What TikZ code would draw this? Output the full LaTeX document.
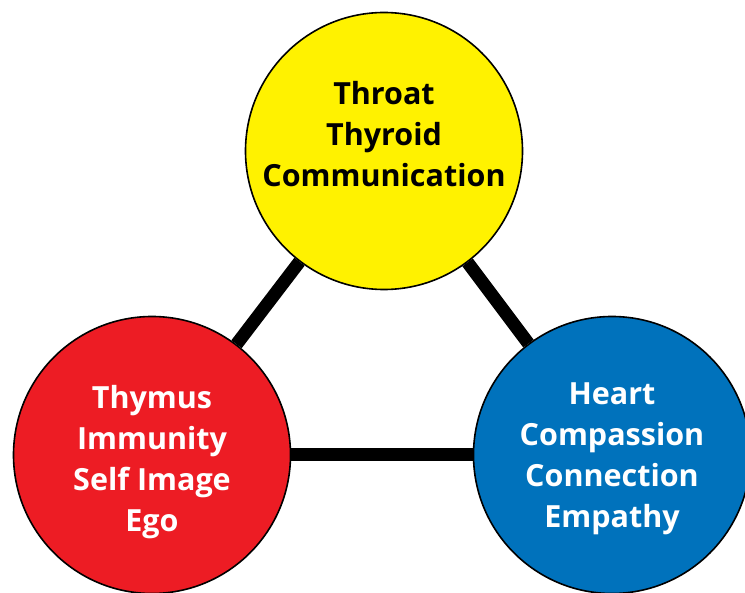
\documentclass[tikz,border=0pt]{standalone}
\usepackage{fontspec}
\setmainfont{Open Sans}
\usepackage{tikz}
\definecolor{chakrayellow}{HTML}{FFF200}
\definecolor{chakrared}{HTML}{ED1C24}
\definecolor{chakrablue}{HTML}{0072BC}
\tikzstyle{chakra} = [circle, minimum size=277pt, inner sep=0pt, draw=black, line width=1.6pt]
\tikzstyle{chakratext} = [align=center, font=\fontsize{30.5}{41}\selectfont\bfseries]
\tikzstyle{link} = [line width=13pt, black]

\begin{document}
\begin{tikzpicture}[x=1pt, y=-1pt]
	\clip (0,0) rectangle (745,593);
	\node (throat) [chakra, fill=chakrayellow, label={[chakratext, yshift=17pt, text=black]center:Throat\\Thyroid\\Communication}] at (384,151) {};
	\node (thymus) [chakra, fill=chakrared, label={[chakratext, yshift=-7pt, text=white]center:Thymus\\Immunity\\Self Image\\Ego}] at (152,455) {};
	\node (heart) [chakra, fill=chakrablue, label={[chakratext, yshift=-4pt, text=white]center:Heart\\Compassion\\Connection\\Empathy}] at (612,455) {};
		\draw [link] (throat) -- (thymus);
		\draw [link] (throat) -- (heart);
		\draw [link] (thymus) -- (heart);
	
\end{tikzpicture}
\end{document}
